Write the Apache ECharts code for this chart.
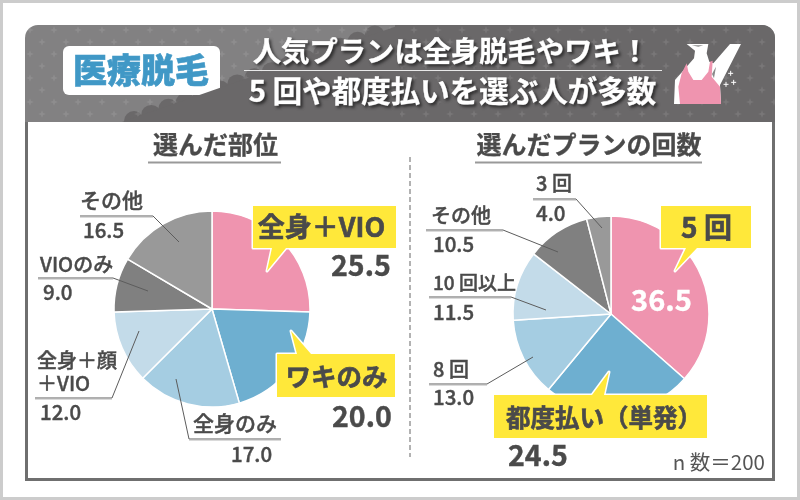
<!DOCTYPE html>
<html><head><meta charset="utf-8">
<style>html,body{margin:0;padding:0;background:#fff}#c{width:800px;height:500px}</style>
<script src="https://cdn.jsdelivr.net/npm/echarts@6/dist/echarts.min.js"></script>
</head><body><div id="c"></div>
<script>
const partCategories = ['全身＋VIO','ワキのみ','全身のみ','全身＋顔\n＋VIO','VIOのみ','その他'];
const partValues = [25.5,20.0,17.0,12.0,9.0,16.5];
const planCategories = ['5 回','都度払い（単発）','8 回','10 回以上','その他','3 回'];
const planValues = [36.5,24.5,13.0,11.5,10.5,4.0];
const sliceColors = ['#ef94af','#6eafd0','#a5cde2','#c3dbe9','#808080','#999999'];
const titleLines = ['人気プランは全身脱毛やワキ！','5 回や都度払いを選ぶ人が多数'];
const badgeText = '医療脱毛';
const leftTitle = '選んだ部位';
const rightTitle = '選んだプランの回数';
const sampleNote = 'n 数＝200';

const FF = '"Noto Sans CJK JP","Noto Sans",sans-serif';
const INK = '#4a4a4a';
const fmt = v => v.toFixed(1);
const g = [];
function txt(t,x,y,size,opt){opt=opt||{};
  const fill=opt.fill||INK, sw=opt.sw==null?0.3:opt.sw;
  g.push({type:'text',z:opt.z||10,silent:true,style:Object.assign({text:t,x:x,y:y,fill:fill,
    stroke:sw?fill:null,lineWidth:sw,
    font:(opt.w||500)+' '+size+'px '+FF,textAlign:opt.a||'left',textVerticalAlign:'middle'},opt.s||{})});}
function line(pts,color,w,opt){opt=opt||{};
  g.push({type:'polyline',z:opt.z||10,silent:true,shape:{points:pts},style:Object.assign({stroke:color,lineWidth:w,fill:null},opt.s||{})});}
function poly(pts,fill,opt){opt=opt||{};
  g.push({type:'polygon',z:opt.z||10,silent:true,shape:{points:pts},style:Object.assign({fill:fill},opt.s||{})});}
function rect(x,y,w,h,fill,opt){opt=opt||{};
  g.push({type:'rect',z:opt.z||0,silent:true,shape:{x:x,y:y,width:w,height:h,r:opt.r||0},style:Object.assign({fill:fill},opt.s||{})});}

// page frame
rect(1.5,1.5,797,497,'#fff',{s:{stroke:'#cccccc',lineWidth:3}});

// header background
const pat = document.createElement('canvas'); pat.width=pat.height=24;
(function(){const c=pat.getContext('2d');c.fillStyle='rgba(255,255,255,0.10)';
  [[6,6],[18,18]].forEach(function(p){c.beginPath();c.moveTo(p[0],p[1]-4);c.lineTo(p[0]+1,p[1]-1);c.lineTo(p[0]+4,p[1]);c.lineTo(p[0]+1,p[1]+1);c.lineTo(p[0],p[1]+4);c.lineTo(p[0]-1,p[1]+1);c.lineTo(p[0]-4,p[1]);c.lineTo(p[0]-1,p[1]-1);c.closePath();c.fill();});})();
rect(25,25,750,97,'#828182',{r:[13,13,0,0]});
poly([[122,122],[400,25],[400,122]],'#6a6869',{z:0});
rect(395,25,380,97,'#6a6869',{r:[0,13,0,0]});
for(let i=0;i<15;i++){const cx=134+i*17.2, cy=121-i*6.1;
  g.push({type:'circle',z:0,silent:true,shape:{cx:cx,cy:cy,r:Math.min(10,cy-25)},style:{fill:'#6a6869'}});}
rect(25,25,750,97,{image:pat,repeat:'repeat'},{r:[13,13,0,0]});
// panel: white body, side and bottom borders only
rect(25,122,750,358,'#fff');
line([[26.5,122],[26.5,479.5],[773.5,479.5],[773.5,122]],'#6f6f6f',3,{z:1});

// badge
rect(63,46,157,49,'#fff',{z:5,r:6});
txt(badgeText,141,70,34,{w:900,a:'center',fill:'#4098c6',sw:0.6});

// title
const tShadow={textShadowColor:'rgba(0,0,0,0.55)',textShadowBlur:3,textShadowOffsetX:2,textShadowOffsetY:2};
txt(titleLines[0],451,51,28.3,{w:700,a:'center',fill:'#fff',sw:0.5,s:tShadow});
line([[244,70.5],[662,70.5]],'#e8e8e8',1);
txt(titleLines[1],452.5,91,29.5,{w:700,a:'center',fill:'#fff',sw:0.5,s:tShadow});

// icon
const ic=(a)=>a.map(p=>[670+p[0]/3,30+p[1]/3]);
poly(ic([[50,42],[115,42],[110,70],[118,95],[130,100],[180,42],[213,42],[150,165],[153,222],[12,222],[15,150],[50,110],[72,85],[75,62]]),'#fff');
poly(ic([[50,100],[55,125],[70,150],[95,150],[115,125],[120,95],[128,92],[125,140],[150,170],[153,222],[30,222],[25,170],[35,130]]),'#ef94af');
poly(ic([[65,46],[100,46],[85,50]]),'#8a8a8a');
poly(ic([[126,132],[138,110],[132,145]]),'#8a8a8a');
[[182,130],[168,163],[191,157]].forEach(function(p){const q=ic([p])[0];
  line([[q[0]-2.5,q[1]],[q[0]+2.5,q[1]]],'#fff',1);line([[q[0],q[1]-2.5],[q[0],q[1]+2.5]],'#fff',1);});

// section titles
txt(leftTitle,215.5,144,25,{w:700,a:'center'});
line([[148,162.5],[281,162.5]],'#999',2);
txt(rightTitle,589,144,25,{w:700,a:'center'});
line([[475,162.5],[702,162.5]],'#999',2);
line([[410,157],[410,457]],'#999',1.5,{s:{lineDash:[5,3]}});
txt(sampleNote,765,462,20.5,{w:400,a:'right',fill:'#555',sw:0});

// leader labels
function leader(name,val,nx,ny,vx,vy,pts,ns){
  txt(name,nx,ny,ns||20,{sw:0.4,s:{lineHeight:23}});
  txt(fmt(val),vx,vy,20.5,{sw:0.4});
  line(pts,'#5c5c5c',1);
  line([pts[0],pts[1]].map(p=>[p[0],p[1]+1]),'#b5b5b5',1);
}
leader(partCategories[5],partValues[5],80,200,83,230,[[80,216],[153,216],[179,242]],21);
leader(partCategories[4],partValues[4],40,264,43,292,[[38,278],[113,278],[148,291]]);
leader(partCategories[3],partValues[3],37,372,40,412,[[35,398],[112,398],[139,331]]);
leader(partCategories[2],partValues[2],193,423,231,454,[[281,439],[189,439],[176,379]],21);
leader(planCategories[5],planValues[5],536,183,536,213,[[533,199],[576,199],[602,228]]);
leader(planCategories[4],planValues[4],431,215,433,244,[[426,230],[503,230],[558,252]]);
leader(planCategories[3],planValues[3],433,283,433,312,[[429,297],[511,297],[546,310]],19);
leader(planCategories[2],planValues[2],433,369,433,397,[[429,384],[487,384],[533,357]]);

// callouts
function callout(pts,name,tx,ty,size,val,vx,vy){
  poly(pts,'#ffe83a',{s:{stroke:'#fff',lineWidth:3,lineJoin:'round'}});
  poly(pts,'#ffe83a');
  txt(name,tx,ty,size,{w:700,a:'center',sw:0.6});
  if(val!=null) txt(fmt(val),vx,vy,28.5,{w:700,sw:0.4});
}
callout([[253,206],[396,206],[396,248],[286,248],[267,271],[272,248],[253,248]],partCategories[0],321.5,227,27,partValues[0],331,265);
callout([[277,354],[297,354],[291,331],[311,354],[395,354],[395,397],[277,397]],partCategories[1],336.5,376,25.5,partValues[1],332,416);
callout([[661,206],[751,206],[751,248],[697,248],[675,271],[686,248],[661,248]],planCategories[0],706.5,227,28);
callout([[494,395],[592,395],[609,372],[604,395],[707,395],[707,438],[494,438]],planCategories[1],604,418,24.5,planValues[1],508,455);
txt(fmt(planValues[0]),661.5,300,29,{w:700,a:'center',fill:'#fff',z:9,sw:0.4});

function pie(cats,vals,center){return {type:'pie',z:2,silent:true,animation:false,center:center,radius:[0,98],
  startAngle:90,clockwise:true,label:{show:false},labelLine:{show:false},
  itemStyle:{borderColor:'#fff',borderWidth:1.5},
  data:vals.map((v,i)=>({name:cats[i],value:v,itemStyle:{color:sliceColors[i]}}))};}

const chart=echarts.init(document.getElementById('c'),null,{renderer:'canvas',width:800,height:500});
chart.setOption({animation:false,backgroundColor:'#fff',
  series:[pie(partCategories,partValues,[212,309]),pie(planCategories,planValues,[611,314])],
  graphic:{elements:g}});
</script></body></html>
